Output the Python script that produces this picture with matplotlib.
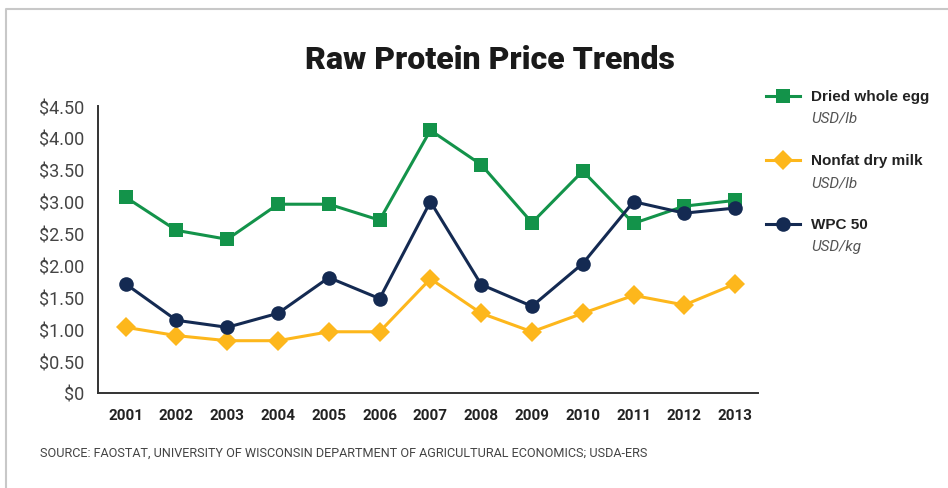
import matplotlib
matplotlib.use("Agg")
import matplotlib.pyplot as plt
from matplotlib.lines import Line2D

years = [2001, 2002, 2003, 2004, 2005, 2006, 2007, 2008, 2009, 2010, 2011, 2012, 2013]
dried_whole_egg = [3.07, 2.55, 2.41, 2.96, 2.96, 2.71, 4.12, 3.58, 2.67, 3.48, 2.66, 2.93, 3.02]
nonfat_dry_milk = [1.03, 0.90, 0.82, 0.82, 0.96, 0.96, 1.79, 1.25, 0.96, 1.25, 1.53, 1.38, 1.71]
wpc_50 = [1.71, 1.14, 1.03, 1.25, 1.81, 1.48, 3.00, 1.70, 1.36, 2.03, 3.00, 2.82, 2.90]

series_names = ["Dried whole egg", "Nonfat dry milk", "WPC 50"]
series_units = ["USD/lb", "USD/lb", "USD/kg"]
y_ticks = [0, 0.5, 1.0, 1.5, 2.0, 2.5, 3.0, 3.5, 4.0, 4.5]
y_tick_labels = ["$0", "$0.50", "$1.00", "$1.50", "$2.00", "$2.50", "$3.00", "$3.50", "$4.00", "$4.50"]

GREEN = "#13934a"
YELLOW = "#fdb71c"
NAVY = "#142a52"
AXIS = "#333333"

W, H = 948, 489
fig = plt.figure(figsize=(W / 100, H / 100), dpi=100)
fig.patch.set_facecolor("white")

# axes placement in pixels
left, right, top, bottom = 98, 758, 107, 394
ax = fig.add_axes([left / W, 1 - bottom / H, (right - left) / W, (bottom - top) / H])

styles = [
    (dried_whole_egg, GREEN, "s", 9.5),
    (nonfat_dry_milk, YELLOW, "D", 10.5),
    (wpc_50, NAVY, "o", 10.5),
]
for vals, col, mk, ms in styles:
    ax.plot(years, vals, color=col, lw=2.2, marker=mk, markersize=ms,
            markeredgewidth=0, zorder=3)

ax.set_xlim(2000.455, 2013.45)
ax.set_ylim(0, 4.5)
ax.set_yticks(y_ticks)
ax.set_yticklabels(y_tick_labels, family="Roboto", fontweight="normal",
                   fontsize=13, color="#444444")
ax.set_xticks(years)
ax.set_xticklabels([str(y) for y in years], family="Roboto",
                   fontweight="bold", fontsize=11, color="#222222")
ax.tick_params(axis="y", length=0, pad=10)
ax.tick_params(axis="x", length=0, pad=11)
for s in ("top", "right"):
    ax.spines[s].set_visible(False)
for s in ("left", "bottom"):
    ax.spines[s].set_color(AXIS)
    ax.spines[s].set_linewidth(1.4)
ax.set_facecolor("none")

# title
fig.text(490 / W, 1 - 60 / H, "Raw Protein Price Trends", ha="center", va="center",
         family="Roboto", fontweight="black", fontsize=23, color="#1a1a1a")

# legend block
leg_rows = [97, 161, 225]
for (vals, col, mk, ms), name, unit, yp in zip(styles, series_names, series_units, leg_rows):
    fy = 1 - yp / H
    fig.add_artist(Line2D([766 / W, 800 / W], [fy, fy], color=col, lw=2.2,
                          transform=fig.transFigure))
    fig.add_artist(Line2D([783 / W], [fy], color=col, marker=mk, markersize=ms,
                          markeredgewidth=0, transform=fig.transFigure))
    fig.text(811 / W, fy, name, ha="left", va="center", family="Liberation Sans",
             fontweight="bold", fontsize=11, color="#222222")
    fig.text(811 / W, 1 - (yp + 22) / H, unit, ha="left", va="center",
             family="Roboto", style="italic", fontsize=11, color="#555555")

# source note
fig.text(40 / W, 1 - 453 / H,
         "SOURCE: FAOSTAT, UNIVERSITY OF WISCONSIN DEPARTMENT OF AGRICULTURAL ECONOMICS; USDA-ERS",
         ha="left", va="center", family="Roboto", fontsize=9.1,
         color="#444444")

# outer frame (top and left edges)
fig.add_artist(Line2D([6 / W, 6 / W, 1.0], [0.0, 1 - 10 / H, 1 - 10 / H],
                      color="#c8c8c8", lw=1.5, transform=fig.transFigure))

fig.savefig("out.png", dpi=100, facecolor="white")
